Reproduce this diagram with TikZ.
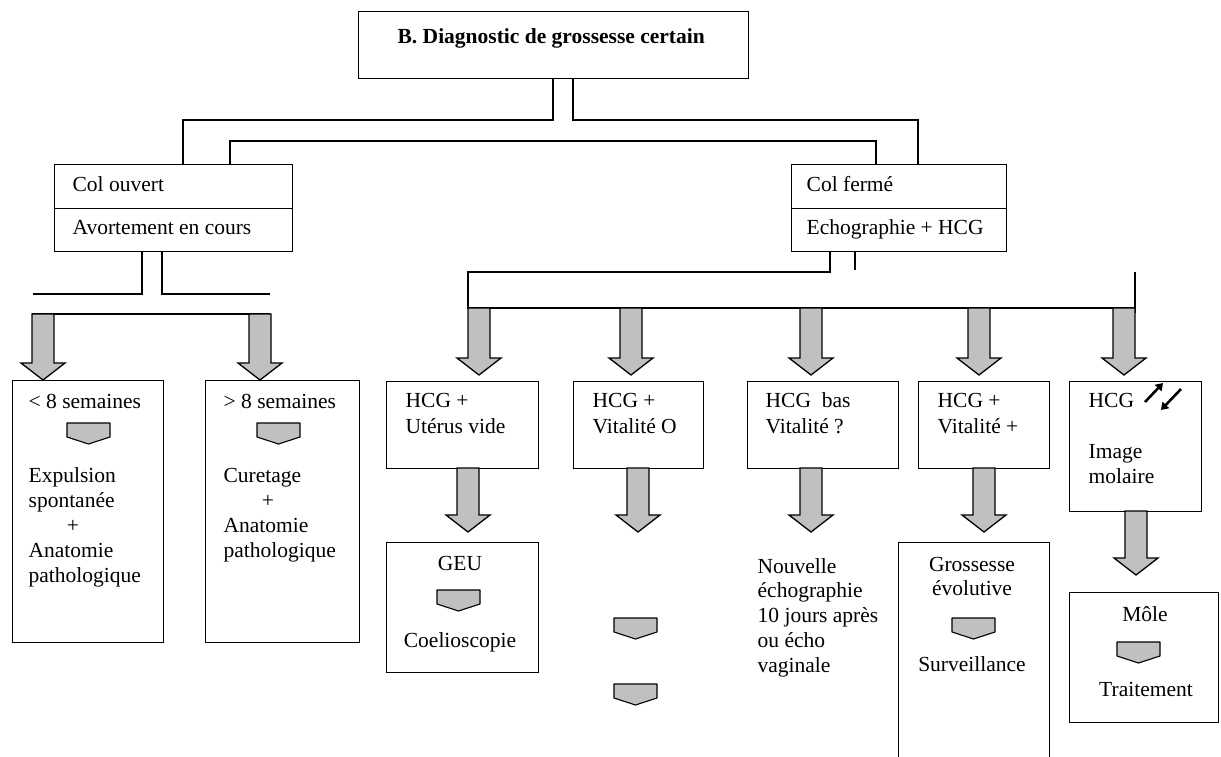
\documentclass[tikz,border=0pt]{standalone}
\usepackage{fontspec}
\setmainfont{Liberation Serif}
\usetikzlibrary{arrows.meta}
\definecolor{arrowgray}{RGB}{192,192,192}

% block arrow: centre x, top y, tip y
\newcommand{\blockarrow}[3]{%
  \filldraw[fill=arrowgray, line width=1.3pt, line join=miter]
    (#1-11,#2) -- (#1+11,#2) -- (#1+11,#3-17) -- (#1+22,#3-17) -- (#1,#3)
    -- (#1-22,#3-17) -- (#1-11,#3-17) -- cycle;}
% small notched marker: top-left corner
\newcommand{\smallarrow}[2]{%
  \filldraw[fill=arrowgray, line width=1.1pt, line join=round]
    (#1,#2) -- (#1+43,#2) -- (#1+43,#2+14) -- (#1+21.5,#2+21) -- (#1,#2+14) -- cycle;}

\begin{document}
\begin{tikzpicture}[x=1pt,y=-1pt, line width=1.3pt,
  box/.style={draw, rectangle, inner sep=0pt, anchor=north west},
  txt/.style={anchor=base west, inner sep=0pt, font=\fontsize{21.5}{25}\selectfont},
  ctxt/.style={anchor=base, inner sep=0pt, font=\fontsize{21.5}{25}\selectfont},
]
\path[use as bounding box] (0,0) rectangle (1221,756);
\clip (0,0) rectangle (1221,756);

% ---------- boxes ----------
\node[box, minimum width=390pt, minimum height=67pt] (title) at (358,11) {};
\node[box, minimum width=238pt, minimum height=87pt] (colo) at (54,164) {};
\node[box, minimum width=215pt, minimum height=87pt] (colf) at (791,164) {};
\draw (colo.west) -- (colo.east);
\draw (colf.west) -- (colf.east);

\node[box, minimum width=151pt, minimum height=262pt] (b1) at (12,380) {};
\node[box, minimum width=154pt, minimum height=262pt] (b2) at (205,380) {};

\node[box, minimum width=152pt, minimum height=87pt] (r1) at (386,381) {};
\node[box, minimum width=130pt, minimum height=87pt] (r2) at (573,381) {};
\node[box, minimum width=151pt, minimum height=87pt] (r3) at (747,381) {};
\node[box, minimum width=131pt, minimum height=87pt] (r4) at (918,381) {};
\node[box, minimum width=132pt, minimum height=130pt] (r5) at (1069,381) {};

\node[box, minimum width=152pt, minimum height=130pt] (geu) at (386,542) {};
\node[box, minimum width=151pt, minimum height=230pt] (gro) at (898,542) {};
\node[box, minimum width=149pt, minimum height=130pt] (mole) at (1069,592) {};

% ---------- connectors ----------
\draw (title.south -| 553,0) |- (183,120) -- (colo.north -| 183,0);
\draw (title.south -| 573,0) |- (918,120) -- (colf.north -| 918,0);
\draw (colo.north -| 230,0) |- (876,141) -- (colf.north -| 876,0);

\draw (colo.south -| 142,0) |- (33,294);
\draw (colo.south -| 162,0) |- (270,294);
\draw (32,314) -- (270,314);

\draw (colf.south -| 830,0) |- (468,272) -- (468,308) -- (1135,308);
\draw (colf.south -| 855,0) -- (855,270);
\draw (1135,272) -- (1135,313);

% ---------- block arrows ----------
\blockarrow{43}{314}{380}
\blockarrow{260}{314}{380}
\foreach \cx in {479,631,811,979,1124} {\blockarrow{\cx}{308}{375}}
\blockarrow{468}{468}{532}
\blockarrow{638}{468}{532}
\blockarrow{811}{468}{532}
\blockarrow{984}{468}{532}
\blockarrow{1136}{511}{575}

% ---------- small markers ----------
\smallarrow{67}{423}
\smallarrow{257}{423}
\smallarrow{437}{590}
\smallarrow{614}{618}
\smallarrow{614}{684}
\smallarrow{952}{618}
\smallarrow{1117}{642}

% ---------- texts ----------
\node[txt, font=\fontsize{21.5}{25}\selectfont\bfseries] (ttl) at (397,43) {B. Diagnostic de grossesse certain};
\node[txt] (co1) at (72,191) {Col ouvert};
\node[txt] (co2) at (72,234) {Avortement en cours};
\node[txt] (cf1) at (806,191) {Col fermé};
\node[txt] (cf2) at (806,234) {Echographie + HCG};

\node[txt] (b1h) at (28,408) {< 8 semaines};
\node[txt] (b1a) at (28,482) {Expulsion};
\node[txt] (b1b) at (28,507) {spontanée};
\node[ctxt] (b1c) at (73,532) {+};
\node[txt] (b1d) at (28,557) {Anatomie};
\node[txt] (b1e) at (28,582) {pathologique};

\node[txt] (b2h) at (223,408) {> 8 semaines};
\node[txt] (b2a) at (223,482) {Curetage};
\node[ctxt] (b2b) at (268,507) {+};
\node[txt] (b2c) at (223,532) {Anatomie};
\node[txt] (b2d) at (223,557) {pathologique};

\node[txt] (r1a) at (405,407) {HCG +};
\node[txt] (r1b) at (405,433) {Utérus vide};
\node[txt] (r2a) at (592,407) {HCG +};
\node[txt] (r2b) at (592,433) {Vitalité O};
\node[txt] (r3a) at (765,407) {HCG\ \ bas};
\node[txt] (r3b) at (765,433) {Vitalité ?};
\node[txt] (r4a) at (937,407) {HCG +};
\node[txt] (r4b) at (937,433) {Vitalité +};
\node[txt] (r5a) at (1088,407) {HCG};
\node[txt] (r5b) at (1088,458) {Image};
\node[txt] (r5c) at (1088,483) {molaire};
% rising marker next to HCG
\draw[line width=2.6pt, -{Triangle[length=7pt,width=9pt]}] (1145,402) -- (1163,383);
\draw[line width=2.6pt, -{Triangle[length=7pt,width=9pt]}] (1181,389) -- (1161,410);

\node[ctxt] (geua) at (460,570) {GEU};
\node[ctxt] (geub) at (460,647) {Coelioscopie};

\node[txt] (nv1) at (757,573) {Nouvelle};
\node[txt] (nv2) at (757,597) {échographie};
\node[txt] (nv3) at (757,622) {10 jours après};
\node[txt] (nv4) at (757,647) {ou écho};
\node[txt] (nv5) at (757,672) {vaginale};

\node[ctxt] (groa) at (972,571) {Grossesse};
\node[ctxt] (grob) at (972,595) {évolutive};
\node[ctxt] (groc) at (972,671) {Surveillance};

\node[ctxt] (molea) at (1145,621) {Môle};
\node[ctxt] (moleb) at (1146,696) {Traitement};
\end{tikzpicture}
\end{document}
